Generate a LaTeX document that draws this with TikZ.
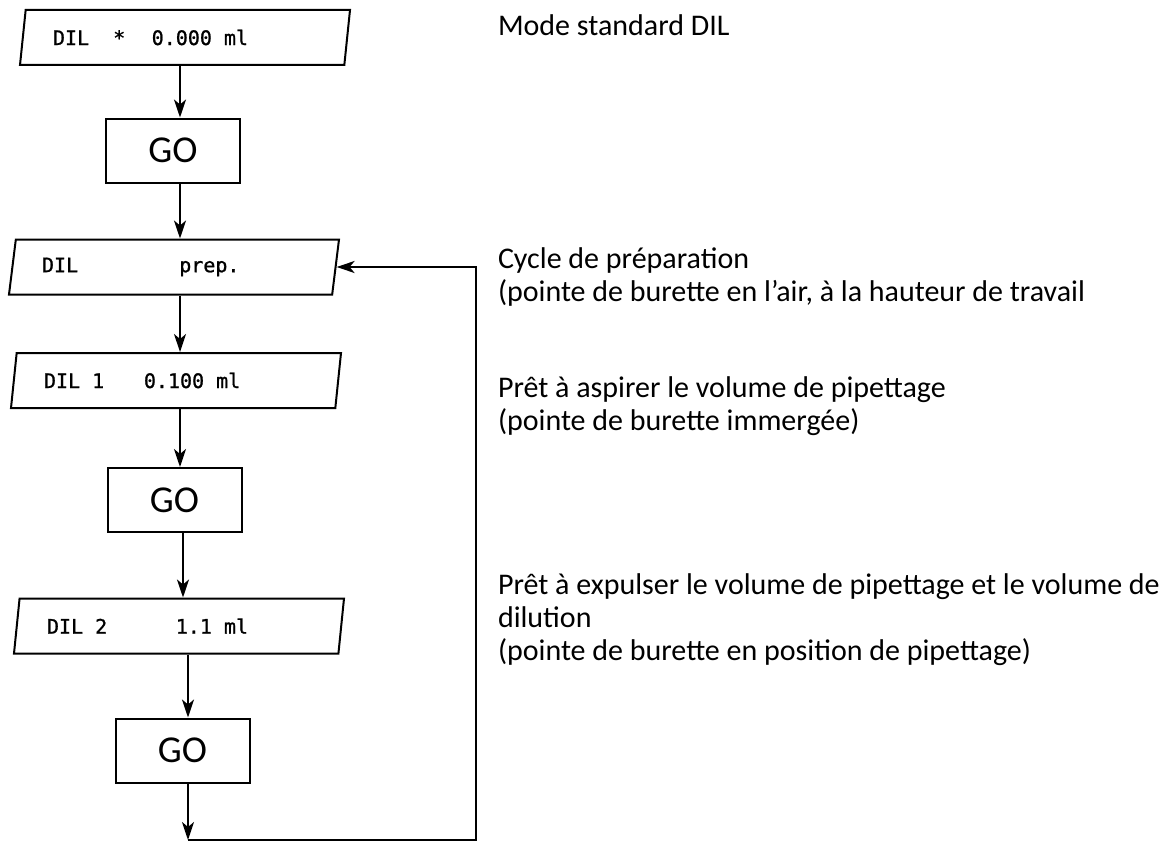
\documentclass[tikz,border=0pt]{standalone}
\usepackage{fontspec}
\setmainfont{Carlito}
\newfontfamily\dispfont{DejaVu Sans Mono}[FakeBold=1]
\usetikzlibrary{shapes.geometric,arrows.meta,positioning}
% blank character cells on the display
\newcommand{\pad}[1]{\hspace*{#1\fontcharwd\font`\0}}

\begin{document}
\begin{tikzpicture}[x=1pt,y=-1pt,line width=2pt,
  display/.style={draw, trapezium, trapezium left angle=70, trapezium right angle=110,
    trapezium stretches body=true, minimum width=330pt, minimum height=55pt,
    text width=264pt, align=left, inner sep=0pt, font=\dispfont\fontsize{20}{24}\selectfont},
  gobox/.style={draw, rectangle, minimum width=134pt, minimum height=64pt,
    font=\fontsize{38}{44}\selectfont},
  note/.style={anchor=base west, align=left, inner sep=0pt, font=\fontsize{30}{33}\selectfont},
  arr/.style={-{Stealth[length=18pt,width=12pt,inset=5pt]}}]

  % Frame
  \useasboundingbox (0,0) rectangle (1168,843);

  % Display and key steps
  \node[display] (dil0) at (185,37.5) {DIL\pad{2}*\pad{2.2}0.000\pad{1}ml};
  \node[gobox]   (go1)  at (173,150.5) {GO};
  \node[display] (prep) at (174,267) {DIL\pad{8.4}prep.};
  \node[display] (dil1) at (176,380.5) {DIL\pad{1}1\pad{3.3}0.100\pad{1}ml};
  \node[gobox]   (go2)  at (174.5,500) {GO};
  \node[display] (dil2) at (179,626) {DIL\pad{1}2\pad{5.7}1.1\pad{1}ml};
  \node[gobox]   (go3)  at (182.5,750.5) {GO};

  % Notes (base = last line)
  \node[note] (nmode) at (497,36) {Mode standard DIL};
  \node[note] (nprep) at (497,301) {Cycle de préparation\\(pointe de burette en l'air, à la hauteur de travail};
  \node[note] (nasp)  at (497,430) {Prêt à aspirer le volume de pipettage\\(pointe de burette immergée)};
  \node[note] (nexp)  at (497,660) {Prêt à expulser le volume de pipettage et le volume de\\dilution\\(pointe de burette en position de pipettage)};

  % Flow
  \draw[arr] ([xshift=7pt]go1.north |- dil0.south) -- ([xshift=7pt]go1.north);
  \draw[arr] ([xshift=7pt]go1.south) -- ([xshift=7pt]go1.south |- prep.north);
  \draw[arr] ([xshift=6pt]prep.south) -- ([xshift=6pt]prep.south |- dil1.north);
  \draw[arr] ([xshift=5.5pt]go2.north |- dil1.south) -- ([xshift=5.5pt]go2.north);
  \draw[arr] ([xshift=8.5pt]go2.south) -- ([xshift=8.5pt]go2.south |- dil2.north);
  \draw[arr] ([xshift=5.5pt]go3.north |- dil2.south) -- ([xshift=5.5pt]go3.north);

  % Loop back
  \coordinate (turn) at (188,840);
  \coordinate (back) at (476,840);
  \draw[arr] ([xshift=5.5pt]go3.south) -- (turn);
  \draw[arr] (turn) -- (back) |- (prep.east);

\end{tikzpicture}
\end{document}
